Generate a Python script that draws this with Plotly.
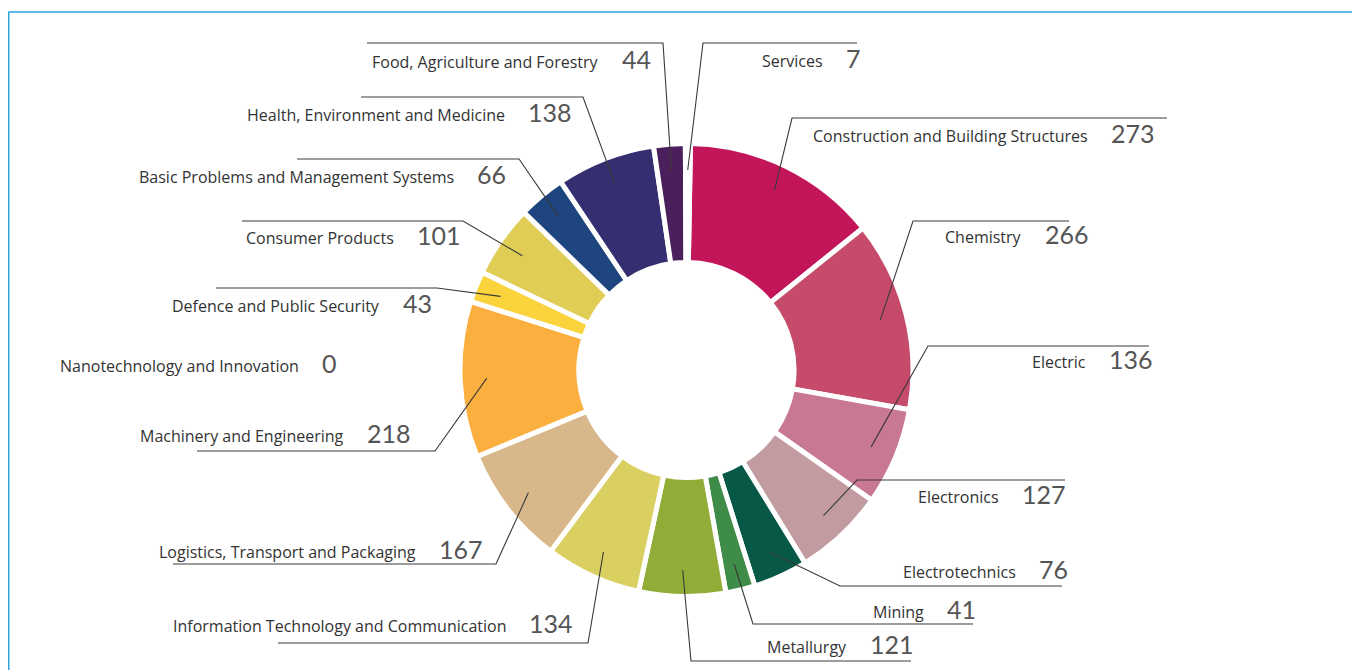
import math
import plotly.graph_objects as go

# ---------------- data ----------------
categories = [
    "Construction and Building Structures", "Chemistry", "Electric", "Electronics",
    "Electrotechnics", "Mining", "Metallurgy", "Information Technology and Communication",
    "Logistics, Transport and Packaging", "Machinery and Engineering",
    "Nanotechnology and Innovation", "Defence and Public Security", "Consumer Products",
    "Basic Problems and Management Systems", "Health, Environment and Medicine",
    "Food, Agriculture and Forestry", "Services",
]
values = [273, 266, 136, 127, 76, 41, 121, 134, 167, 218, 0, 43, 101, 66, 138, 44, 7]
colors = [
    "#C3155A", "#C64B6B", "#C87794", "#C29BA0", "#075847", "#3F8B48", "#91AD37",
    "#DAD062", "#D8B88A", "#FBAF3F", "#FFFFFF", "#FBD33D", "#E0CD55", "#1F4580",
    "#352E70", "#4B1F5C", "#1B2467",
]

# ---------------- layout (pixel positions in the browser window) ----------------
W, H = 1360, 670
OFF = 8  # page body margin
CX, CY, R = 686.5, 370.0, 226.5
HOLE = 0.475
ROTATION = 1
name_right_x = [1090, 1024, 1088, 1001, 1018, 926, 849, 508, 418, 346, 301, 382, 396, 456, 507, 601, 825]
label_y = [136, 237, 362, 497, 572, 612, 647, 626, 552, 436, 366, 306, 238, 177, 115, 62, 61]
elbow_x = [792, 913, 928, 857, 840, 753, 691, 588, 496, 435, None, 437, 463, 519, 583, 663, 703]
elbow_y = [118, 221, 346, 480, 586, 624, 661, 643, 564, 451, None, 288, 221, 159, 97, 43, 43]
line_end_x = [1167, 1069, 1149, 1065, 1062, 973, 911, 278, 173, 197, None, 216, 242, 297, 361, 367, 857]
LEADER_R = 200


def px(x):
    return (x - OFF) / W


def py(y):
    return 1 - (y - OFF) / H


fig = go.Figure()
fig.add_trace(go.Pie(
    labels=categories, values=values, sort=False, direction="clockwise",
    rotation=ROTATION, hole=HOLE, textinfo="none", showlegend=False,
    marker=dict(colors=colors, line=dict(color="white", width=5)),
    domain=dict(x=[px(CX - R), px(CX + R)], y=[py(CY + R), py(CY - R)]),
    hoverinfo="label+value",
))

total = sum(values)
shapes = []
annotations = []
cum = 0
for i, (cat, v) in enumerate(zip(categories, values)):
    mid = cum + v / 2
    cum += v
    ang = math.radians(ROTATION + mid / total * 360)
    if v > 0 and elbow_x[i] is not None:
        sx = CX + LEADER_R * math.sin(ang)
        sy = CY - LEADER_R * math.cos(ang)
        path = "M {:.5f} {:.5f} L {:.5f} {:.5f} L {:.5f} {:.5f}".format(
            px(sx), py(sy), px(elbow_x[i]), py(elbow_y[i]), px(line_end_x[i]), py(elbow_y[i]))
        shapes.append(dict(type="path", xref="paper", yref="paper", path=path,
                           line=dict(color="#3a3a3a", width=1.1)))
    annotations.append(dict(
        x=px(name_right_x[i]), y=py(label_y[i]), xref="paper", yref="paper",
        xanchor="right", yanchor="middle", showarrow=False, text=cat,
        font=dict(family="Open Sans, sans-serif", size=16, color="#333333")))
    annotations.append(dict(
        x=px(name_right_x[i] + 19), y=py(label_y[i] - 3), xref="paper", yref="paper",
        xanchor="left", yanchor="middle", showarrow=False, text=str(v),
        font=dict(family="Lato, Open Sans, sans-serif", size=25, color="#555555")))

# frame
FRAME = "#2aa2db"
shapes.append(dict(type="line", xref="paper", yref="paper", x0=px(8.5), x1=1, y0=py(12), y1=py(12),
                   line=dict(color=FRAME, width=1.5)))
shapes.append(dict(type="line", xref="paper", yref="paper", x0=px(8.7), x1=px(8.7), y0=py(12), y1=0,
                   line=dict(color=FRAME, width=1.5)))

fig.update_layout(
    width=W, height=H, margin=dict(l=0, r=0, t=0, b=0),
    paper_bgcolor="white", plot_bgcolor="white",
    shapes=shapes, annotations=annotations, showlegend=False,
)
fig.write_html("out.html")
